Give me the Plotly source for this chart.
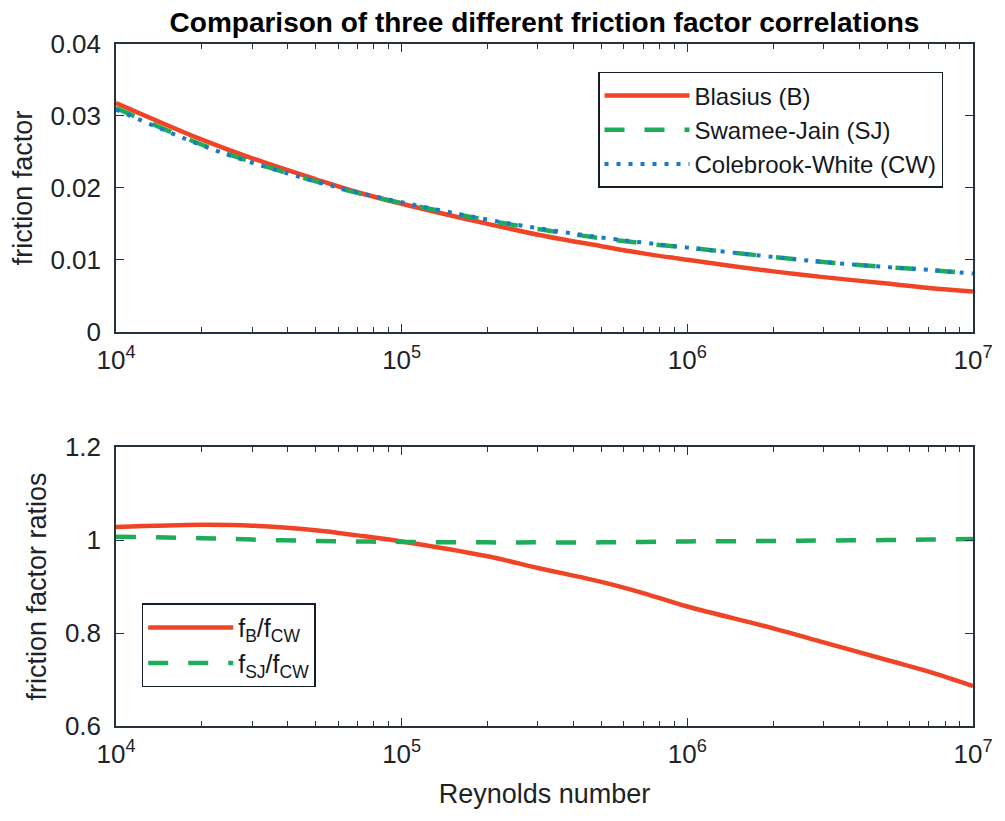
import plotly.graph_objects as go

# Reynolds numbers sampled
re = [1e4, 2e4, 3e4, 5e4, 7e4, 1e5, 2e5, 3e5, 5e5, 7e5, 1e6, 2e6, 3e6, 5e6, 7e6, 1e7]

# friction factors
f_blasius = [0.0318, 0.0267, 0.0241, 0.0212, 0.0194, 0.0178, 0.0150, 0.0135, 0.0119, 0.0109,
             0.0100, 0.0084, 0.0076, 0.0067, 0.0061, 0.0056]
f_swamee = [0.0311, 0.0260, 0.0236, 0.0209, 0.0193, 0.0179, 0.0155, 0.0143, 0.0130, 0.0123,
            0.0117, 0.0104, 0.0097, 0.0090, 0.0086, 0.0081]
f_colebrook = [0.0309, 0.0259, 0.0235, 0.0209, 0.0194, 0.0180, 0.0156, 0.0144, 0.0131, 0.0124,
               0.0117, 0.0104, 0.0097, 0.0090, 0.0086, 0.0081]

# ratios
ratio_b_cw = [1.028, 1.033, 1.031, 1.021, 1.010, 0.997, 0.965, 0.940, 0.910, 0.886,
              0.857, 0.810, 0.780, 0.742, 0.717, 0.686]
ratio_sj_cw = [1.007, 1.004, 1.001, 0.998, 0.997, 0.996, 0.995, 0.995, 0.995, 0.996,
               0.997, 0.998, 0.999, 1.000, 1.001, 1.002]

x_tickvals = [1e4, 1e5, 1e6, 1e7]
x_ticktext = ["10<sup>4</sup>", "10<sup>5</sup>", "10<sup>6</sup>", "10<sup>7</sup>"]
x_minor_vals = [k * 10 ** n for n in (4, 5, 6) for k in range(2, 10)]

RED = "rgb(240,68,38)"
GREEN = "rgb(30,172,90)"
BLUE = "rgb(24,122,200)"
FONT = "Liberation Sans, Arial, sans-serif"
AX = "rgb(40,50,60)"
TXT = "rgb(30,35,40)"

fig = go.Figure()
fig.add_trace(go.Scatter(x=re, y=f_blasius, name="Blasius (B)", mode="lines", line_shape="spline",
                         line=dict(color=RED, width=4.5), xaxis="x", yaxis="y", legend="legend"))
fig.add_trace(go.Scatter(x=re, y=f_swamee, name="Swamee-Jain (SJ)", mode="lines", line_shape="spline",
                         line=dict(color=GREEN, width=4.5, dash="20px,20px"), xaxis="x", yaxis="y", legend="legend"))
fig.add_trace(go.Scatter(x=re, y=f_colebrook, name="Colebrook-White (CW)", mode="lines", line_shape="spline",
                         line=dict(color=BLUE, width=4, dash="4px,8px"), xaxis="x", yaxis="y", legend="legend"))

fig.add_trace(go.Scatter(x=re, y=ratio_b_cw, name="f<sub>B</sub>/f<sub>CW</sub>", mode="lines", line_shape="spline",
                         line=dict(color=RED, width=4.5), xaxis="x2", yaxis="y2", legend="legend2"))
fig.add_trace(go.Scatter(x=re, y=ratio_sj_cw, name="f<sub>SJ</sub>/f<sub>CW</sub>", mode="lines", line_shape="spline",
                         line=dict(color=GREEN, width=4.5, dash="20px,20px"), xaxis="x2", yaxis="y2", legend="legend2"))

common_x = dict(type="log", range=[4, 7], tickvals=x_tickvals, ticktext=x_ticktext,
                ticks="inside", ticklen=8, tickcolor=AX, showline=True, linecolor=AX, linewidth=1.5,
                mirror="ticks", showgrid=False, zeroline=False,
                minor=dict(ticks="inside", ticklen=5, tickcolor=AX, showgrid=False, tickvals=x_minor_vals),
                tickfont=dict(size=26, color=TXT, family=FONT),
                ticklabelstandoff=4)
common_y = dict(ticks="inside", ticklen=8, tickcolor=AX, showline=True, linecolor=AX, linewidth=1.5,
                mirror="ticks", showgrid=False, zeroline=False,
                tickfont=dict(size=26, color=TXT, family=FONT), ticklabelstandoff=8)

fig.update_layout(
    width=997, height=813,
    margin=dict(l=104, r=23, t=36, b=95),
    paper_bgcolor="white", plot_bgcolor="white",
    font=dict(family=FONT, color=TXT),
    title=dict(text="<b>Comparison of three different friction factor correlations</b>",
               xref="paper", x=0.5, xanchor="center", y=0.983, yanchor="middle",
               font=dict(size=28, color="black", family=FONT)),
    xaxis=dict(domain=[0, 1], anchor="y", **common_x),
    yaxis=dict(domain=[0.578, 1], anchor="x", range=[0, 0.04], tickvals=[0, 0.01, 0.02, 0.03, 0.04],
               ticktext=["0", "0.01", "0.02", "0.03", "0.04"],
               title=dict(text="friction factor", font=dict(size=27, family=FONT, color=TXT), standoff=12),
               **common_y),
    xaxis2=dict(domain=[0, 1], anchor="y2",
                title=dict(text="Reynolds number", font=dict(size=27, family=FONT, color=TXT), standoff=16),
                **common_x),
    yaxis2=dict(domain=[0, 0.409], anchor="x2", range=[0.6, 1.2], tickvals=[0.6, 0.8, 1.0, 1.2],
                ticktext=["0.6", "0.8", "1", "1.2"],
                title=dict(text="friction factor ratios", font=dict(size=27, family=FONT, color=TXT), standoff=10),
                **common_y),
    legend=dict(x=0.965, xanchor="right", y=0.959, yanchor="top", bgcolor="white",
                bordercolor="rgb(20,30,40)", borderwidth=1.5,
                font=dict(size=24, family=FONT, color="rgb(20,25,30)"),
                itemwidth=85),
    legend2=dict(x=0.03, xanchor="left", y=0.18, yanchor="top", bgcolor="white",
                 bordercolor="rgb(20,30,40)", borderwidth=1.5,
                 font=dict(size=25, family=FONT, color="rgb(20,25,30)"),
                 itemwidth=85, tracegroupgap=4),
    showlegend=True,
)

fig.write_html("out.html")
